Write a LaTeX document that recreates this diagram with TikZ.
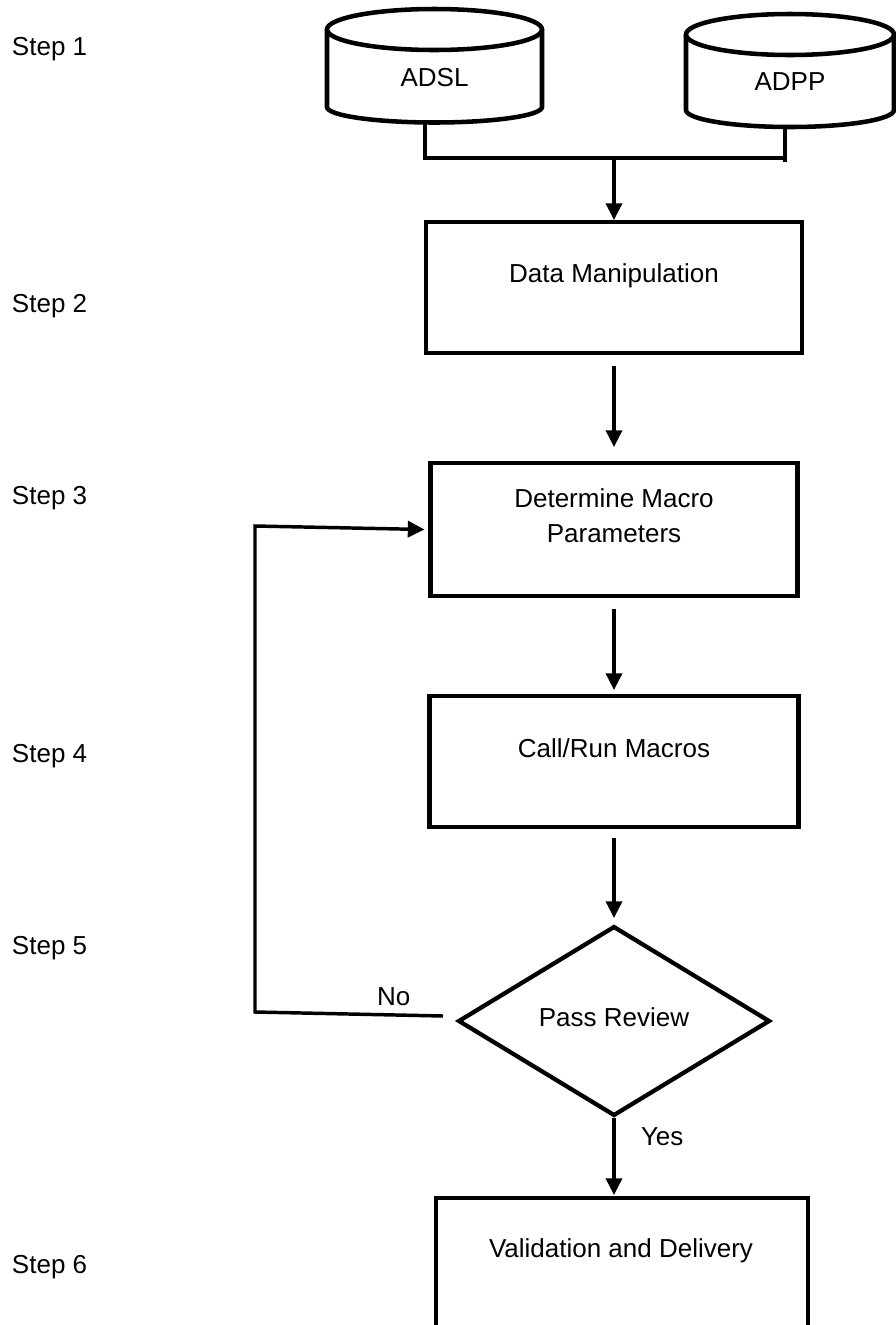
\documentclass[tikz,border=0pt]{standalone}
\usepackage{fontspec}
\setmainfont{Liberation Sans}
\usetikzlibrary{arrows.meta,shapes.geometric}
\tikzset{
  txt/.style={font=\fontsize{19.5}{24}\selectfont, inner sep=0pt, outer sep=0pt, text=black},
  stepbox/.style={draw=black, line width=3.7pt, inner sep=0pt, outer sep=0pt, rectangle, line join=miter},
  decision/.style={draw=black, line width=3.2pt, diamond, inner sep=0pt, outer sep=0pt, minimum width=232.5pt, minimum height=141pt, line join=miter},
  cyl/.style={draw=black, line width=3.4pt},
  line/.style={draw=black, line width=2.6pt},
  arr/.style={line, -{Triangle[width=12pt,length=12.5pt]}, line join=miter},
  holder/.style={inner sep=0pt, outer sep=0pt, txt}
}
\begin{document}
\begin{tikzpicture}[x=0.75pt,y=-0.75pt]
\useasboundingbox (0,0) rectangle (896,1325);
\clip (0,0) rectangle (896,1325);

% step labels
\node[txt, anchor=base west] (s1) at (12,55) {Step 1};
\node[txt, anchor=base west] (s2) at (12,312) {Step 2};
\node[txt, anchor=base west] (s3) at (12,504) {Step 3};
\node[txt, anchor=base west] (s4) at (12,762) {Step 4};
\node[txt, anchor=base west] (s5) at (12,954) {Step 5};
\node[txt, anchor=base west] (s6) at (12,1273) {Step 6};

% cylinders
\draw[cyl] (434.5,29.5) ellipse[x radius=107.5, y radius=20.5];
\draw[cyl] (327,29.5) -- (327,107) arc[start angle=180, end angle=0, x radius=107.5, y radius=15.5] -- (542,29.5);
\node[holder, minimum width=161.25pt, minimum height=68.25pt] (adsl) at (434.5,77.5) {ADSL};

\draw[cyl] (790,34.5) ellipse[x radius=104, y radius=20.5];
\draw[cyl] (686,34.5) -- (686,110) arc[start angle=180, end angle=0, x radius=104, y radius=17] -- (894,34.5);
\node[holder, minimum width=156pt, minimum height=69.75pt] (adpp) at (790,81.5) {ADPP};

% boxes
\node[stepbox, minimum width=282pt, minimum height=98.25pt] (dm) at (614,287.5) {};
\node[txt, anchor=base] (dmt) at (614,282) {Data Manipulation};

\node[stepbox, minimum width=275.25pt, minimum height=99.75pt] (dmp) at (614,529.5) {};
\node[txt, anchor=base] (dmpt1) at (614,507) {Determine Macro};
\node[txt, anchor=base] (dmpt2) at (614,542) {Parameters};

\node[stepbox, minimum width=276.75pt, minimum height=98.25pt] (crm) at (614,761.5) {};
\node[txt, anchor=base] (crmt) at (614,757) {Call/Run Macros};

\node[decision] (pr) at (614,1021) {};
\node[txt, anchor=base] (prt) at (614,1026) {Pass Review};

\node[stepbox, minimum width=279pt, minimum height=99pt] (vd) at (622,1264) {};
\node[txt, anchor=base] (vdt) at (621,1257) {Validation and Delivery};

% labels
\node[txt, anchor=base west] (no) at (377,1005) {No};
\node[txt, anchor=base west] (yes) at (641,1145) {Yes};

% connectors
\coordinate (jl) at (425,158);
\coordinate (jr) at (785,158);
\coordinate (jrb) at (785,162);
\coordinate (j) at (614,158);
\draw[line] (adsl.south -| jl) -- (jl) -- (jr);
\draw[line] (adpp.south -| jr) -- (jrb);
\draw[arr, shorten >=1.5pt] (j) -- (dm.north);

\draw[arr, shorten <=9.75pt, shorten >=12pt] (dm.south) -- (dmp.north);
\draw[arr, shorten <=9.75pt, shorten >=4.5pt] (dmp.south) -- (crm.north);
\draw[arr, shorten <=8.25pt, shorten >=6.75pt] (crm.south) -- (pr.north);
\draw[arr, shorten <=2.25pt, shorten >=2.25pt] (pr.south) -- (pr.south |- vd.north);

\coordinate (fbl) at (255,1012);
\coordinate (fbt) at (255,526);
\draw[arr] ([xshift=-12pt,yshift=3.75pt]pr.west) -- (fbl) -- (fbt) -- ([xshift=-4.5pt]dmp.west);
\end{tikzpicture}
\end{document}
